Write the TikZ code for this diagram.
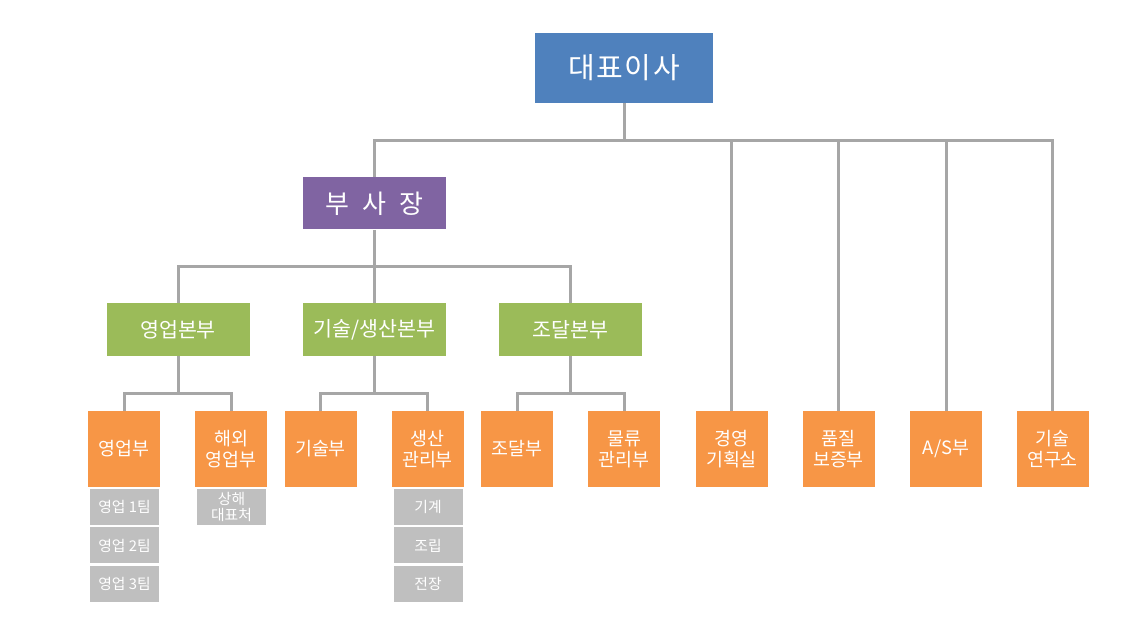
\documentclass[tikz,border=0pt]{standalone}
\usepackage{fontspec}
\setmainfont{Noto Sans CJK KR}
\newfontfamily\widefont[WordSpace=2.2]{Noto Sans CJK KR}
\newfontfamily\spacedfont[LetterSpace=6]{Noto Sans CJK KR}
\definecolor{ceoblue}{HTML}{4F81BD}
\definecolor{vppurple}{HTML}{8064A2}
\definecolor{hqgreen}{HTML}{9BBB59}
\definecolor{deptorange}{HTML}{F79646}
\definecolor{teamgray}{HTML}{BFBFBF}
\definecolor{linegray}{HTML}{A6A6A6}
\begin{document}
\begin{tikzpicture}[x=0.5pt,y=-0.5pt,
  box/.style={inner sep=0pt, text=white, align=center},
  topbox/.style={box, fill=ceoblue, minimum width=89pt, minimum height=35pt, font=\spacedfont\fontsize{14.5}{16}\selectfont},
  vpbox/.style={box, fill=vppurple, minimum width=71.5pt, minimum height=26pt, font=\widefont\fontsize{13}{15}\selectfont},
  hqbox/.style={box, fill=hqgreen, minimum width=71.5pt, minimum height=26.5pt, font=\fontsize{10.3}{12}\selectfont},
  deptbox/.style={box, fill=deptorange, minimum width=36pt, minimum height=38pt, font=\fontsize{9.2}{10.5}\selectfont},
  teambox/.style={box, fill=teamgray, minimum width=34.5pt, minimum height=18pt, font=\fontsize{7.4}{8}\selectfont},
  link/.style={draw=linegray, line width=1.5pt}]
\useasboundingbox (0,0) rectangle (1140,640);
\node[topbox](ceo) at (624,68){대표이사};
\node[vpbox](vp) at (374.5,203.5){부 사 장};
\node[hqbox](sales) at (178,329.5){영업본부};
\node[hqbox](tech) at (374.5,329.5){기술/생산본부};
\node[hqbox](purch) at (570.5,329.5){조달본부};
\node[deptbox](d1) at (124,449){영업부};
\node[deptbox](d2) at (231,449){해외\\영업부};
\node[deptbox](d3) at (320.5,449){기술부};
\node[deptbox](d4) at (427.5,449){생산\\관리부};
\node[deptbox](d5) at (517,449){조달부};
\node[deptbox](d6) at (624,449){물류\\관리부};
\node[deptbox](d7) at (731.5,449){경영\\기획실};
\node[deptbox](d8) at (838.5,449){품질\\보증부};
\node[deptbox](d9) at (946,449){A/S부};
\node[deptbox](d10) at (1052.5,449){기술\\연구소};
\node[teambox](t1) at (124.5,507){영업 1팀};
\node[teambox](t2) at (124.5,545.5){영업 2팀};
\node[teambox](t3) at (124.5,584){영업 3팀};
\node[teambox](t4) at (231.5,507){상해\\대표처};
\node[teambox](t5) at (428,507){기계};
\node[teambox](t6) at (428,545.5){조립};
\node[teambox](t7) at (428,584){전장};
% connectors
\coordinate (bus0) at (624,140.5);
\coordinate (bus1) at (374.5,267);
\coordinate (bus2) at (178,394);
\coordinate (bus3) at (374.5,394);
\coordinate (bus4) at (570.5,394);
\draw[link] (ceo) -- (bus0);
\foreach \n in {vp,d7,d8,d9,d10} \draw[link] (bus0) -| (\n);
\draw[link] (vp) -- (bus1);
\foreach \n in {sales,tech,purch} \draw[link] (bus1) -| (\n);
\draw[link] (sales) -- (bus2);
\draw[link] (tech) -- (bus3);
\draw[link] (purch) -- (bus4);
\foreach \n in {d1,d2} \draw[link] (bus2) -| (\n);
\foreach \n in {d3,d4} \draw[link] (bus3) -| (\n);
\foreach \n in {d5,d6} \draw[link] (bus4) -| (\n);
\end{tikzpicture}
\end{document}
